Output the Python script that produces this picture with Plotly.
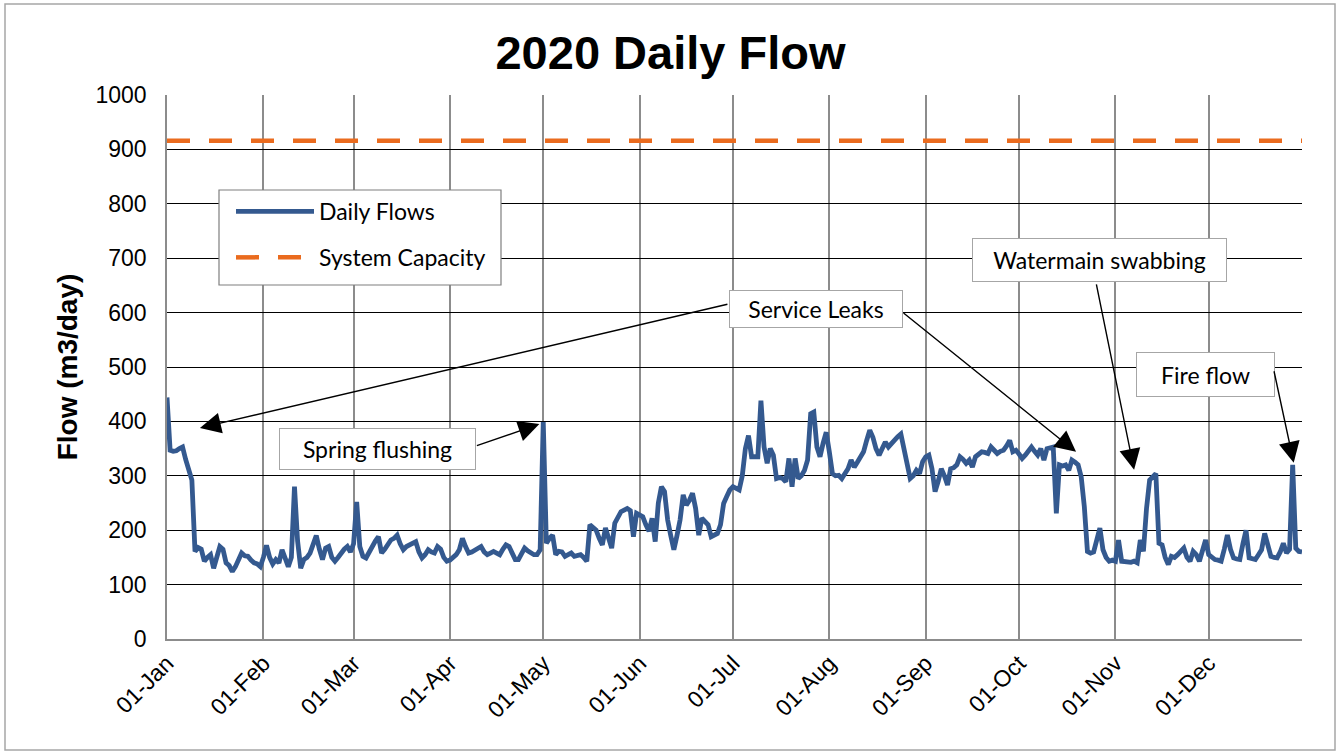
import pandas as pd
import plotly.graph_objects as go

# ---- data ----
dates = pd.date_range("2020-01-01", "2020-12-31", freq="D")
daily_flows = [
    444, 347, 345, 346, 350, 353, 330, 310, 292, 161,
    168, 165, 143, 150, 155, 130, 150, 170, 165, 140,
    135, 124, 133, 145, 158, 153, 152, 145, 140, 138,
    133, 150, 172, 150, 138, 146, 140, 164, 145, 133,
    150, 280, 180, 130, 146, 150, 158, 175, 190, 165,
    146, 167, 170, 150, 143, 150, 158, 165, 170, 160,
    175, 252, 170, 152, 149, 160, 170, 180, 188, 158,
    165, 175, 182, 185, 191, 175, 164, 170, 173, 176,
    179, 160, 149, 155, 164, 160, 158, 170, 165, 150,
    143, 145, 149, 155, 164, 185, 170, 158, 160, 164,
    167, 170, 160, 155, 158, 161, 158, 155, 165, 173,
    170, 158, 146, 146, 155, 167, 162, 158, 155, 155,
    164, 399, 176, 185, 191, 155, 161, 160, 152, 155,
    158, 152, 153, 155, 150, 143, 210, 205, 200, 185,
    173, 204, 185, 167, 213, 225, 234, 237, 240, 236,
    188, 231, 228, 225, 210, 198, 222, 179, 250, 280,
    271, 219, 190, 164, 190, 219, 265, 246, 255, 268,
    240, 191, 222, 215, 210, 188, 190, 194, 210, 249,
    262, 274, 280, 277, 274, 300, 350, 374, 335, 335,
    335, 438, 353, 323, 350, 338, 295, 297, 295, 289,
    332, 280, 332, 295, 300, 310, 329, 414, 417, 353,
    335, 360, 380, 344, 304, 300, 301, 295, 305, 313,
    329, 316, 325, 335, 344, 365, 384, 371, 350, 338,
    350, 362, 353, 360, 368, 372, 377, 347, 320, 295,
    300, 310, 304, 326, 335, 338, 313, 271, 290, 313,
    300, 283, 313, 315, 320, 335, 330, 323, 329, 316,
    335, 340, 344, 343, 341, 353, 347, 341, 345, 347,
    355, 365, 344, 347, 340, 332, 338, 344, 353, 345,
    338, 350, 329, 350, 352, 353, 231, 320, 318, 320,
    310, 329, 325, 320, 298, 243, 161, 158, 160, 180,
    204, 164, 150, 143, 145, 143, 182, 143, 142, 140,
    141, 143, 140, 182, 161, 240, 292, 298, 304, 176,
    173, 150, 137, 152, 150, 155, 160, 167, 150, 143,
    161, 155, 143, 160, 182, 155, 150, 146, 145, 143,
    165, 191, 165, 149, 147, 146, 175, 200, 149, 148,
    146, 155, 164, 194, 170, 152, 150, 149, 160, 176,
    158, 165, 320, 167, 161, 160,
]
system_capacity = 916

# annotation labels and arrow head positions (date, value)
ann_boxes = ["Service Leaks", "Spring flushing", "Watermain swabbing", "Fire flow"]
arrow_heads = [
    ("2020-01-11 14:00", 388),
    ("2020-10-19 08:00", 344),
    ("2020-04-29 18:00", 395),
    ("2020-11-07 00:00", 311),
    ("2020-12-28 08:00", 324),
]

# ---- layout geometry (pixels) ----
W, H = 1341, 754
L, R, T, B = 167, 1302, 95, 639
pw, ph = R - L, B - T

def px(x):
    return (x - L) / pw

def py(y):
    return (B - y) / ph

BLUE = "#34598F"
ORANGE = "#EA6B1E"
TXT = "Lato"
ARIAL = "Liberation Sans"

fig = go.Figure()
fig.add_trace(go.Scatter(
    x=dates, y=daily_flows, mode="lines", name="Daily Flows",
    line=dict(color=BLUE, width=4.8), legendgroup="a",
))
fig.add_trace(go.Scatter(
    x=[dates[0], dates[-1]], y=[system_capacity, system_capacity],
    mode="lines", name="System Capacity", legendgroup="b",
    line=dict(color=ORANGE, width=4.5, dash="23px,19px"),
))

annotations = []
# boxes: center x, center y, width, height (pixels)
box_geo = [
    (816, 309, 174, 38),
    (377, 449, 197, 42),
    (1099, 260, 255, 44),
    (1205, 374, 139, 45),
]
for text, (cx, cy, bw, bh) in zip(ann_boxes, box_geo):
    annotations.append(dict(
        text=text, xref="paper", yref="paper", x=px(cx), y=py(cy),
        xanchor="center", yanchor="middle", showarrow=False,
        width=bw - 2, height=bh - 2, borderpad=0,
        bordercolor="#A6A6A6", borderwidth=1, bgcolor="white",
        font=dict(family=TXT, size=23, color="black"),
    ))

tails = [(729, 304), (903, 312), (476, 446), (1097, 283), (1275, 370)]
heads_px = [(200, 428), (1077, 452), (540, 424), (1135, 470), (1295, 463)]
for (hx, hy), (tx, ty), (hpx, hpy) in zip(arrow_heads, tails, heads_px):
    annotations.append(dict(
        text="", x=hx, y=hy, xref="x", yref="y",
        ax=tx - hpx, ay=ty - hpy, axref="pixel", ayref="pixel",
        showarrow=True, arrowhead=2, arrowsize=3, arrowwidth=1.4,
        arrowcolor="black", standoff=0, startstandoff=0,
    ))

fig.update_layout(
    width=W, height=H,
    margin=dict(l=L, r=W - R, t=T, b=H - B),
    paper_bgcolor="white", plot_bgcolor="white",
    title=dict(text="<b>2020 Daily Flow</b>", x=0.5, xref="container",
               y=1 - 53 / H, yref="container", xanchor="center", yanchor="middle",
               font=dict(family=ARIAL, size=47, color="black")),
    font=dict(family=ARIAL, color="black"),
    legend=dict(
        x=px(231), y=py(190), xanchor="left", yanchor="top",
        borderwidth=0, bgcolor="rgba(0,0,0,0)",
        font=dict(family=TXT, size=23, color="black"),
        itemwidth=78, tracegroupgap=13,
    ),
    annotations=annotations,
    shapes=[
        dict(type="rect", xref="paper", yref="paper",
             x0=px(5), x1=px(1335), y0=py(750), y1=py(4),
             line=dict(color="#A6A6A6", width=1.5), layer="below"),
        dict(type="rect", xref="paper", yref="paper",
             x0=px(219), x1=px(501), y0=py(285), y1=py(190),
             line=dict(color="#7F7F7F", width=1.2), fillcolor="white", layer="above"),
    ],
)
fig.update_xaxes(
    type="date", range=["2020-01-01", "2020-12-31"],
    tick0="2020-01-01", dtick="M1", tickformat="%d-%b", tickangle=-45,
    tickfont=dict(family=ARIAL, size=23, color="black"),
    showgrid=True, gridcolor="#8C8C8C", gridwidth=1.5,
    showline=True, linecolor="#8C8C8C", linewidth=1.5,
    ticks="", zeroline=False,
)
fig.update_yaxes(
    range=[0, 1000], dtick=100,
    tickfont=dict(family=ARIAL, size=23, color="black"),
    showgrid=True, gridcolor="black", gridwidth=1.3,
    showline=True, linecolor="#8C8C8C", linewidth=1.5,
    zeroline=False, ticks="outside", ticklen=14, tickcolor="rgba(0,0,0,0)",
    title=dict(text="<b>Flow (m3/day)</b>", font=dict(family=ARIAL, size=28, color="black"),
               standoff=10),
)

fig.write_html("out.html", config={"displayModeBar": False},
               post_script="document.body.style.margin='0px';")
